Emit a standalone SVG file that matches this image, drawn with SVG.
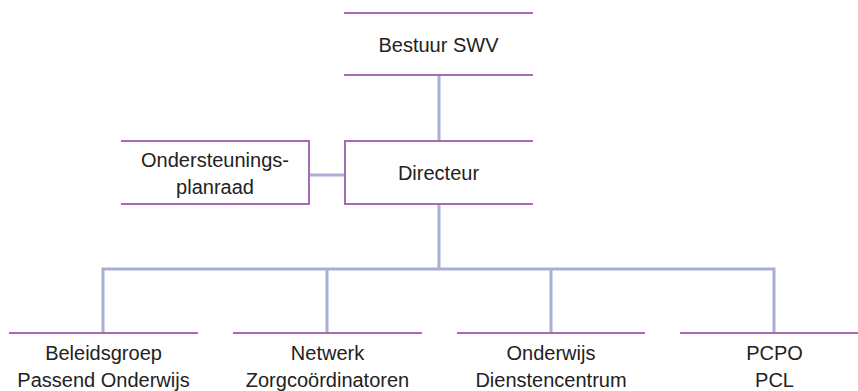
<svg xmlns="http://www.w3.org/2000/svg" width="858" height="391" viewBox="0 0 858 391">
<style>
.bx{stroke:#a56cb5;stroke-width:2;fill:none}
.cn{stroke:#a9aed3;stroke-width:3;fill:none}
text{font-family:"Liberation Sans","Noto Sans",sans-serif;font-size:20px;fill:#222;text-anchor:middle}
</style>
<rect width="858" height="391" fill="#fff"/>
<g id="connectors">
<path class="cn" d="M439 76V141M439 204V269M103 333V269H774V333M327 269V333M551 269V333M309 175H345"/>
</g>
<g id="bestuur">
<path class="bx" d="M344 13H533M344 75H533"/>
<text x="438.5" y="52">Bestuur SWV</text>
</g>
<g id="directeur">
<path class="bx" d="M533 141H345V204H533"/>
<text x="438.5" y="180">Directeur</text>
</g>
<g id="osp">
<path class="bx" d="M121 141H309V204H121"/>
<text x="215" y="167">Ondersteunings-</text>
<text x="215" y="194">planraad</text>
</g>
<g id="beleidsgroep">
<path class="bx" d="M9 333H198"/>
<text x="103.5" y="360">Beleidsgroep</text>
<text x="103.5" y="387">Passend Onderwijs</text>
</g>
<g id="netwerk">
<path class="bx" d="M233 333H422"/>
<text x="327.5" y="360">Netwerk</text>
<text x="327.5" y="387">Zorgcoördinatoren</text>
</g>
<g id="odc">
<path class="bx" d="M457 333H645"/>
<text x="551" y="360">Onderwijs</text>
<text x="551" y="387">Dienstencentrum</text>
</g>
<g id="pcpo">
<path class="bx" d="M680 333H858"/>
<text x="774.5" y="360">PCPO</text>
<text x="774.5" y="387">PCL</text>
</g>
</svg>
